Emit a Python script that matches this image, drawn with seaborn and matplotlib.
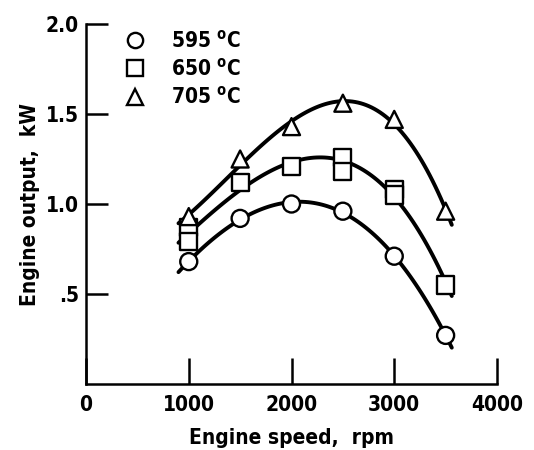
import numpy as np
import pandas as pd
import matplotlib
matplotlib.use("Agg")
import matplotlib.pyplot as plt
from matplotlib.lines import Line2D
import seaborn as sns

# values
speed_595 = [1000, 1500, 2000, 2500, 3000, 3500]
output_595 = [0.68, 0.92, 1.00, 0.96, 0.71, 0.27]

speed_650 = [1000, 1000, 1500, 2000, 2500, 2500, 3000, 3000, 3500]
output_650 = [0.87, 0.79, 1.12, 1.21, 1.26, 1.18, 1.08, 1.05, 0.55]

speed_705 = [1000, 1500, 2000, 2500, 3000, 3500]
output_705 = [0.93, 1.25, 1.43, 1.56, 1.47, 0.96]

temps = ["595", "650", "705"]
markers = ["o", "s", "^"]
x_ticks = [0, 1000, 2000, 3000, 4000]
y_ticks = [0.5, 1.0, 1.5, 2.0]
y_tick_labels = [".5", "1.0", "1.5", "2.0"]

df = pd.concat([
    pd.DataFrame({"speed": speed_595, "output": output_595, "temp": "595"}),
    pd.DataFrame({"speed": speed_650, "output": output_650, "temp": "650"}),
    pd.DataFrame({"speed": speed_705, "output": output_705, "temp": "705"}),
])

sns.set_style("ticks")
plt.rcParams["font.family"] = ["DejaVu Sans"]
plt.rcParams["font.stretch"] = "condensed"
plt.rcParams["font.weight"] = "bold"
plt.rcParams["axes.labelweight"] = "bold"
plt.rcParams["text.color"] = "black"
plt.rcParams["axes.labelcolor"] = "black"
plt.rcParams["xtick.color"] = "black"
plt.rcParams["ytick.color"] = "black"

fig = plt.figure(figsize=(5.34, 4.5), dpi=100)
ax = fig.add_axes([86 / 534, 1 - 384 / 450, 411 / 534, 360 / 450])

# faired curves, drawn over the span of the original lines
ax.set_xlim(900, 3560)
for t in temps:
    sub = df[df["temp"] == t]
    sns.regplot(data=sub, x="speed", y="output", order=3, ci=None, scatter=False,
                truncate=False, ax=ax, line_kws=dict(color="black", lw=2.8))

sns.scatterplot(data=df, x="speed", y="output", style="temp", markers=markers,
                style_order=temps, color="white", edgecolor="black", linewidth=1.7,
                s=150, legend=False, ax=ax, zorder=5)

ax.set_xlim(0, 4000)
ax.set_ylim(0, 2.0)
ax.set_xticks(x_ticks)
ax.set_yticks(y_ticks)
ax.set_yticklabels(y_tick_labels)
ax.tick_params(axis="both", direction="in", width=1.8, labelsize=15)
ax.tick_params(axis="x", length=19, pad=8)
ax.tick_params(axis="y", length=16, pad=5)
for sp in ["top", "right"]:
    ax.spines[sp].set_visible(False)
for sp in ["left", "bottom"]:
    ax.spines[sp].set_linewidth(1.8)
    ax.spines[sp].set_color("black")

ax.set_xlabel("Engine speed,  rpm", fontsize=15, labelpad=9)
ax.set_ylabel("Engine output,  kW", fontsize=15, labelpad=4)

handles = [Line2D([], [], ls="none", marker=m, markersize=11, markerfacecolor="white",
                  markeredgecolor="black", markeredgewidth=1.7) for m in markers]
labels = [t + r" $^{\mathrm{o}}$C" for t in temps]
ax.legend(handles, labels, loc="upper left", bbox_to_anchor=(0.095, 0.985), frameon=False,
          fontsize=15, handlelength=1.0, handletextpad=1.2, labelspacing=0.3,
          borderpad=0, borderaxespad=0)

plt.savefig("out.png", dpi=100)
